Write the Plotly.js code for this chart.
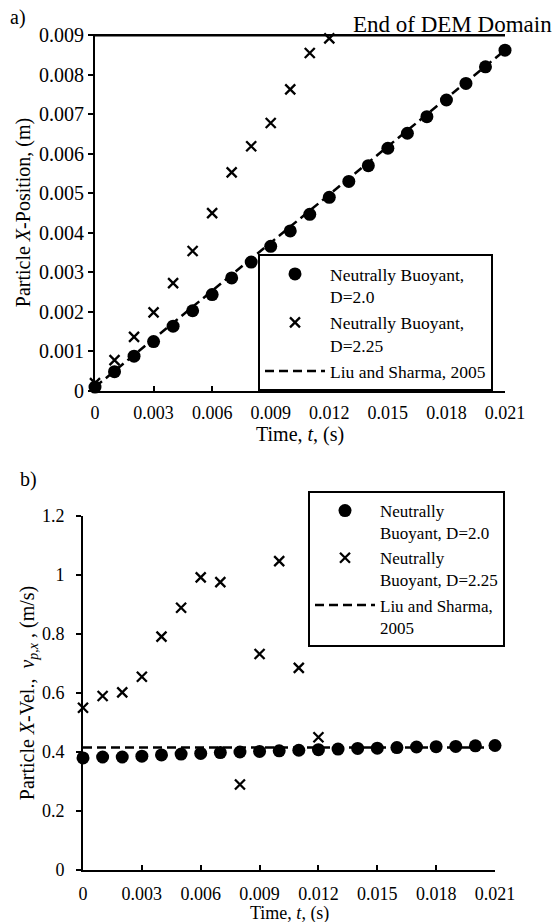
<!DOCTYPE html>
<html><head><meta charset="utf-8">
<script src="https://cdn.plot.ly/plotly-3.0.1.min.js"></script>
<style>body{margin:0;background:#fff}#chart{width:555px;height:922px}</style>
</head><body><div id="chart"></div>
<script>
// ---- data (panel a: position) ----
const timeD20 = [0,0.001,0.002,0.003,0.004,0.005,0.006,0.007,0.008,0.009,0.010,0.011,0.012,0.013,0.014,0.015,0.016,0.017,0.018,0.019,0.020,0.021];
const posD20 = [0.0001,0.00049,0.00088,0.00125,0.00164,0.00203,0.00244,0.00286,0.00326,0.00366,0.00405,0.00447,0.0049,0.0053,0.0057,0.00614,0.00652,0.00694,0.00736,0.00778,0.0082,0.00862];
const timeD225 = [0,0.001,0.002,0.003,0.004,0.005,0.006,0.007,0.008,0.009,0.010,0.011,0.012];
const posD225 = [0.0002,0.00078,0.00137,0.00199,0.00273,0.00354,0.0045,0.00553,0.00619,0.00678,0.00763,0.00855,0.00892];
const liuTime = [0,0.021];
const liuPos = [0.0001,0.00862];
const domainEndTime = [0,0.021];
const domainEndPos = [0.009,0.009];
// ---- data (panel b: velocity) ----
const velD20 = [0.38,0.383,0.383,0.386,0.39,0.393,0.395,0.398,0.4,0.402,0.404,0.406,0.408,0.41,0.412,0.413,0.415,0.417,0.418,0.419,0.421,0.422];
const velD225 = [0.55,0.59,0.602,0.655,0.791,0.889,0.992,0.976,0.29,0.732,1.047,0.685,0.45];
const liuVel = [0.415,0.415];
// ---- ticks ----
const timeTicks = [0,0.003,0.006,0.009,0.012,0.015,0.018,0.021];
const timeTickText = ['0','0.003','0.006','0.009','0.012','0.015','0.018','0.021'];
const posTicks = [0,0.001,0.002,0.003,0.004,0.005,0.006,0.007,0.008,0.009];
const posTickText = ['0','0.001','0.002','0.003','0.004','0.005','0.006','0.007','0.008','0.009'];
const velTicks = [0,0.2,0.4,0.6,0.8,1,1.2];
const velTickText = ['0','0.2','0.4','0.6','0.8','1','1.2'];

const F = 'Liberation Serif, Times New Roman, serif';
const W = 555, H = 922;
const dot = {symbol:'circle', size:13, color:'black'};
const cross = {symbol:'x-thin', size:10, color:'black', line:{color:'black', width:2.3}};
const dash = {color:'black', width:2.5, dash:'9px,5px'};

const traces = [
  {x:timeD20, y:posD20, type:'scatter', mode:'markers', marker:dot, name:'Neutrally Buoyant,<br>D=2.0', legend:'legend', xaxis:'x', yaxis:'y', cliponaxis:false},
  {x:timeD225, y:posD225, type:'scatter', mode:'markers', marker:cross, name:'Neutrally Buoyant,<br>D=2.25', legend:'legend', xaxis:'x', yaxis:'y', cliponaxis:false},
  {x:liuTime, y:liuPos, type:'scatter', mode:'lines', line:dash, name:'Liu and Sharma, 2005', legend:'legend', xaxis:'x', yaxis:'y'},
  {x:domainEndTime, y:domainEndPos, type:'scatter', mode:'lines', line:{color:'black', width:2.5}, showlegend:false, xaxis:'x', yaxis:'y', hoverinfo:'skip'},
  {x:timeD20, y:velD20, type:'scatter', mode:'markers', marker:dot, name:'Neutrally<br>Buoyant, D=2.0', legend:'legend2', xaxis:'x2', yaxis:'y2', cliponaxis:false},
  {x:timeD225, y:velD225, type:'scatter', mode:'markers', marker:cross, name:'Neutrally<br>Buoyant, D=2.25', legend:'legend2', xaxis:'x2', yaxis:'y2', cliponaxis:false},
  {x:liuTime, y:liuVel, type:'scatter', mode:'lines', line:dash, name:'Liu and Sharma,<br>2005', legend:'legend2', xaxis:'x2', yaxis:'y2'}
];

const axBase = {showline:true, linecolor:'black', linewidth:2, showgrid:false, zeroline:false,
  tickcolor:'black', tickwidth:2, ticklen:5, automargin:false};

const legendBase = {bgcolor:'white', bordercolor:'black', borderwidth:2, font:{family:F, size:18, color:'black'},
  itemwidth:60, valign:'top', tracegroupgap:0, xref:'paper', yref:'paper', xanchor:'left', yanchor:'top'};

const layout = {
  width:W, height:H, margin:{l:0, r:0, t:0, b:0}, paper_bgcolor:'white', plot_bgcolor:'white',
  font:{family:F, color:'black', size:18},
  xaxis: Object.assign({}, axBase, {domain:[95/W, 505/W], anchor:'y', range:[0,0.021], tickvals:timeTicks, ticktext:timeTickText,
    ticks:'inside', tickfont:{family:F, size:18}, ticklabelstandoff:4}),
  yaxis: Object.assign({}, axBase, {domain:[1-391/H, 1-34/H], anchor:'x', range:[0,0.00903], tickvals:posTicks, ticktext:posTickText,
    ticks:'outside', tickfont:{family:F, size:20},
    title:{text:'Particle <i>X</i>-Position, (m)', font:{family:F, size:20}, standoff:3}}),
  xaxis2: Object.assign({}, axBase, {domain:[83/W, 495/W], anchor:'y2', range:[0,0.021], tickvals:timeTicks, ticktext:timeTickText,
    ticks:'inside', tickfont:{family:F, size:18}, ticklabelstandoff:6}),
  yaxis2: Object.assign({}, axBase, {domain:[1-870/H, 1-516/H], anchor:'x2', range:[0,1.2], tickvals:velTicks, ticktext:velTickText,
    ticks:'outside', tickfont:{family:F, size:18}, ticklabelstandoff:8,
    title:{text:'Particle <i>X</i>-Vel.,  <i>v</i><sub><i>p,x</i></sub> , (m/s)', font:{family:F, size:20}, standoff:2}}),
  legend: Object.assign({}, legendBase, {x:258/W, y:1-254/H, font:{family:F, size:17.5, color:'black'}}),
  legend2: Object.assign({}, legendBase, {x:308/W, y:1-491/H, font:{family:F, size:17, color:'black'}}),
  annotations:[
    {text:'Time, <i>t</i>, (s)', xref:'paper', yref:'paper', x:300/W, y:1-434/H, xanchor:'center', yanchor:'middle', showarrow:false, font:{family:F, size:20}},
    {text:'Time, <i>t</i>, (s)', xref:'paper', yref:'paper', x:289/W, y:1-913.5/H, xanchor:'center', yanchor:'middle', showarrow:false, font:{family:F, size:18}},
    {text:'a)', xref:'paper', yref:'paper', x:8/W, y:1-18/H, xanchor:'left', yanchor:'middle', showarrow:false, font:{family:F, size:20}},
    {text:'b)', xref:'paper', yref:'paper', x:18/W, y:1-480/H, xanchor:'left', yanchor:'middle', showarrow:false, font:{family:F, size:20}},
    {text:'End of DEM Domain', xref:'paper', yref:'paper', x:554/W, y:1-25/H, xanchor:'right', yanchor:'middle', showarrow:false, font:{family:F, size:23}}
  ]
};

Plotly.newPlot('chart', traces, layout, {displayModeBar:false, staticPlot:true});
</script>
</body></html>
